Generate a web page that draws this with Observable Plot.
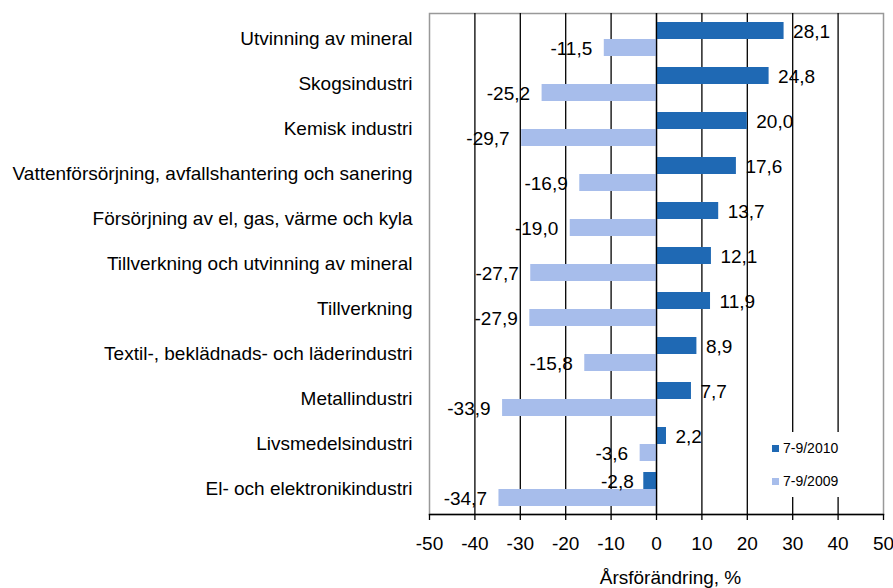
<!DOCTYPE html>
<html>
<head>
<meta charset="utf-8">
<script src="https://cdn.jsdelivr.net/npm/d3@7"></script>
<script src="https://cdn.jsdelivr.net/npm/@observablehq/plot@0.6"></script>
<style>
  body { margin: 0; background: #fff; font-family: "Liberation Sans", Arial, sans-serif; }
  #wrap { position: relative; width: 893px; height: 588px; overflow: hidden; }
  #legend { position: absolute; left: 766px; top: 432px; width: 114px; height: 65px; background: #fff; font-size: 14px; color: #000; }
  .item { position: absolute; left: 6px; display: flex; align-items: center; }
  .sw { width: 7px; height: 7px; margin-right: 4px; }
</style>
</head>
<body>
<div id="wrap"></div>
<script>
const categories = [
  "Utvinning av mineral",
  "Skogsindustri",
  "Kemisk industri",
  "Vattenförsörjning, avfallshantering och sanering",
  "Försörjning av el, gas, värme och kyla",
  "Tillverkning och utvinning av mineral",
  "Tillverkning",
  "Textil-, beklädnads- och läderindustri",
  "Metallindustri",
  "Livsmedelsindustri",
  "El- och elektronikindustri"
];
const values2010 = [28.1, 24.8, 20.0, 17.6, 13.7, 12.1, 11.9, 8.9, 7.7, 2.2, -2.8];
const values2009 = [-11.5, -25.2, -29.7, -16.9, -19.0, -27.7, -27.9, -15.8, -33.9, -3.6, -34.7];
const seriesNames = ["7-9/2010", "7-9/2009"];
const seriesColors = ["#1F69B4", "#A7BDEB"];
const xTicks = [-50, -40, -30, -20, -10, 0, 10, 20, 30, 40, 50];
const gridTicks = [-40, -30, -20, -10, 0, 10, 20, 30, 40];
const xLabel = "Årsförändring, %";

const d2010 = categories.map((c, i) => ({cat: c, v: values2010[i]}));
const d2009 = categories.map((c, i) => ({cat: c, v: values2009[i]}));
const fmt = v => d3.format(".1f")(v).replace(".", ",").replace("−", "-");

const FS = 19;
const chart = Plot.plot({
  width: 893,
  height: 588,
  marginLeft: 429,
  marginRight: 10,
  marginTop: 13,
  marginBottom: 74,
  style: {fontFamily: "'Liberation Sans', Arial, sans-serif", fontSize: FS + "px", color: "#000", background: "#fff"},
  x: {domain: [-50, 50], ticks: xTicks},
  y: {domain: categories, padding: 0},
  marks: [
    Plot.frame({stroke: "#999", strokeWidth: 1.5}),
    Plot.ruleX(gridTicks, {stroke: "#000", strokeWidth: 1.3}),
    Plot.barX(d2010, {x: "v", y: "cat", fill: seriesColors[0], insetTop: 6, insetBottom: 22}),
    Plot.barX(d2009, {x: "v", y: "cat", fill: seriesColors[1], insetTop: 23, insetBottom: 5}),
    Plot.ruleX([0], {stroke: "#000", strokeWidth: 1.3}),
    Plot.frame({anchor: "bottom", stroke: "#000", strokeWidth: 1.3}),
    Plot.text(d2010.filter(d => d.v >= 0), {x: "v", y: "cat", text: d => fmt(d.v), textAnchor: "start", dx: 9, dy: -7, fontSize: FS}),
    Plot.text(d2010.filter(d => d.v < 0), {x: "v", y: "cat", text: d => fmt(d.v), textAnchor: "end", dx: -10, dy: -7, fontSize: FS}),
    Plot.text(d2009, {x: "v", y: "cat", text: d => fmt(d.v), textAnchor: "end", dx: -12, dy: 10, fontSize: FS}),
    Plot.axisX({ticks: xTicks, tickSize: 6, tickPadding: 16, tickFormat: d => String(d).replace("−", "-"), fontSize: FS, label: null, strokeWidth: 1.3}),
    Plot.axisY({tickSize: 0, tickPadding: 17, fontSize: FS, label: null}),
    Plot.text([xLabel], {frameAnchor: "bottom", dy: 69, dx: 14, fontSize: FS, text: d => d})
  ]
});
const wrap = document.getElementById("wrap");
wrap.appendChild(chart);

const legend = document.createElement("div");
legend.id = "legend";
seriesNames.forEach((name, i) => {
  const it = document.createElement("div");
  it.className = "item";
  it.style.top = (i === 0 ? 8 : 41) + "px";
  const sw = document.createElement("span");
  sw.className = "sw";
  sw.style.background = seriesColors[i];
  const t = document.createElement("span");
  t.textContent = name;
  it.appendChild(sw);
  it.appendChild(t);
  legend.appendChild(it);
});
wrap.appendChild(legend);
</script>
</body>
</html>
